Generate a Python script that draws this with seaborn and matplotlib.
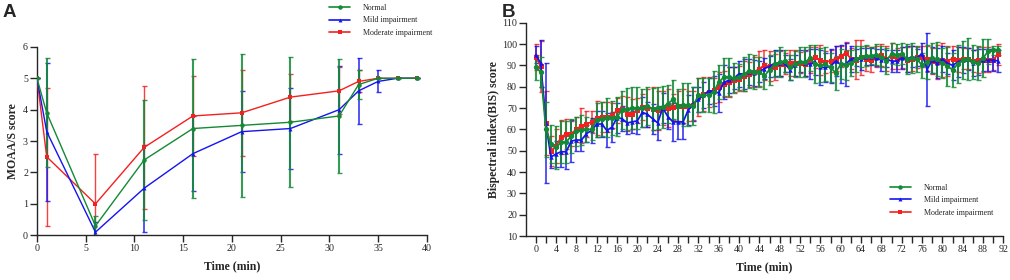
import numpy as np
import pandas as pd
import matplotlib
matplotlib.use("Agg")
import matplotlib.pyplot as plt
import seaborn as sns

# ---------------- data ----------------
groups = ["Normal", "Mild impairment", "Moderate impairment"]

# Panel A: MOAA/S score
time_a = [0, 1, 6, 11, 16, 21, 26, 31, 33, 35, 37, 39]
moaas_normal = [5, 3.9, 0.3, 2.4, 3.4, 3.5, 3.6, 3.8, 4.8, 5.0, 5.0, 5.0]
moaas_mild = [5, 3.3, 0.1, 1.5, 2.6, 3.3, 3.4, 4.0, 4.6, 4.9, 5.0, 5.0]
moaas_moderate = [5, 2.5, 1.0, 2.8, 3.8, 3.9, 4.4, 4.6, 4.9, 5.0, 5.0, 5.0]
sd_a_normal = [0, 1.73, 0.3, 1.92, 2.2, 2.27, 2.07, 1.82, 0.45, 0, 0, 0]
sd_a_mild = [0, 2.2, 0.33, 1.38, 1.2, 1.28, 1.3, 1.4, 1.05, 0.35, 0, 0]
sd_a_moderate = [0, 2.2, 1.6, 1.97, 1.28, 1.37, 0.75, 0.75, 0.35, 0, 0, 0]

# Panel B: BIS score (each minute 0..91)
time_b = list(range(92))
bis_normal = [89, 87, 60, 53, 51.5, 54, 54, 57, 59, 59.5, 60, 60, 64.5, 65, 65.5, 65.5,
              66, 69, 69.5, 70, 70, 70, 71, 69.5, 70, 70.5, 72, 74, 71, 71.5, 71.5, 71,
              76, 76, 76, 77.5, 82, 84.5, 84.5, 84, 84.5, 86, 87.5, 87, 87, 85, 88, 90.5,
              91.5, 92, 89, 90.5, 91.5, 91.5, 93.5, 90.5, 90, 90.5, 89, 86.5, 90.5, 90,
              91, 93, 94, 94.5, 94.5, 95, 94, 92, 95.5, 95, 95.5, 93, 93.5, 93, 90, 91.5,
              93.5, 93, 91, 89.5, 88, 90.5, 92.5, 93, 91.5, 91, 93.5, 96.5, 97, 97]
bis_mild = [95, 91, 63, 47, 48.5, 49.5, 49.5, 54.5, 55, 55, 58, 59.5, 62.5, 62.5, 59.5, 61,
            65.5, 65, 63, 63.5, 64, 68, 67, 65, 63, 70, 66, 63.5, 63.5, 63.5, 69, 72,
            74, 76, 78, 78, 77, 82, 83, 84, 86, 86, 87, 86.5, 87, 88.5, 89.5, 91,
            91, 91, 88, 90, 92, 91, 90.5, 91.5, 89, 89, 89.5, 92, 90.5, 90.5,
            93, 93.5, 93, 94, 94, 93.5, 92.5, 93, 92, 92, 93.5, 93, 94, 93.5, 95.5, 88,
            92.5, 91, 93, 91, 90, 91.5, 92.5, 93, 91, 91.5, 92.5, 92.5, 92.5, 92]
bis_moderate = [94, 89.5, 63, 50, 52, 56.3, 58, 58, 60, 61.8, 62.6, 63.4, 65.4, 65.7, 65.7, 66.5,
                68.9, 69.7, 67.3, 67.3, 68.9, 70.4, 70, 69.7, 68.9, 70, 70.1, 70.4, 70.8, 70.9, 70.8, 71.2,
                75.2, 76.4, 77.5, 78.3, 79.9, 81.4, 82.2, 83.3, 83.8, 84.9, 85.8, 86.9, 88.5, 90, 89.6, 89.3,
                90.8, 90.8, 91.2, 91.2, 91.2, 90.8, 92.4, 93.7, 92.4, 91.6, 92.1, 93.2, 94.3, 95.9,
                93.2, 92.7, 93.7, 93.2, 92.7, 94, 94.8, 93.2, 94.3, 93.2, 93.7, 92.7, 93.2, 93.7, 94, 93.2,
                92.1, 91.6, 92.4, 92.1, 93.2, 92.7, 93.2, 93.2, 92.1, 92.4, 92.7, 92.7, 92.7, 95.2]
sd_b_normal = [6, 7, 13, 9, 10, 10, 10, 8, 7, 7, 6, 5, 8, 8, 9, 8,
               9, 9, 10, 10, 10, 9, 9, 10, 10, 10, 9, 9, 8, 10, 10, 9,
               8, 8, 8, 10, 8, 9, 9, 7, 6, 8, 8, 8, 7, 6, 7, 6,
               7, 5, 6, 6, 7, 7, 6, 9, 8, 8, 7, 8, 7, 7,
               6, 6, 5, 5, 4, 5, 5, 6, 5, 5, 5, 7, 7, 6, 6, 8,
               7, 8, 7, 9, 8, 9, 9, 10, 8, 8, 9, 6, 2, 2]
sd_b_mild = [4, 11, 28, 5, 6, 7, 8, 10, 5, 5, 4, 6, 6, 6, 8, 7,
             7, 6, 5, 5, 6, 7, 6, 7, 8, 7, 6, 9, 8, 8, 7, 8,
             6, 6, 6, 7, 9, 8, 6, 5, 6, 7, 6, 6, 5, 5, 5, 6,
             6, 4, 5, 5, 5, 6, 7, 6, 8, 7, 8, 7, 9, 10,
             6, 4, 5, 4, 4, 4, 5, 4, 5, 5, 5, 6, 5, 4, 5, 17,
             6, 7, 6, 5, 7, 7, 6, 5, 6, 6, 5, 5, 5, 5]
sd_b_moderate = [6, 12, 15, 7, 8, 8, 7, 6, 6, 8, 6, 5, 8, 7, 7, 6,
                 6, 6, 8, 7, 6, 6, 9, 10, 9, 8, 9, 6, 7, 8, 7, 7,
                 9, 8, 7, 6, 7, 6, 7, 6, 6, 7, 6, 7, 8, 7, 7, 6,
                 6, 5, 6, 6, 5, 6, 6, 5, 7, 5, 5, 6, 5, 5,
                 5, 9, 8, 6, 6, 5, 5, 6, 6, 5, 5, 6, 6, 5, 5, 6,
                 6, 8, 8, 7, 6, 6, 5, 5, 5, 6, 6, 6, 5, 5]

xticks_b = list(range(0, 93, 2))
xticklabels_b = [str(v) if v % 4 == 0 else "" for v in xticks_b]

# ---------------- style ----------------
sns.set_style("ticks")
plt.rcParams["font.family"] = ["Liberation Serif", "DejaVu Serif"]
plt.rcParams["axes.linewidth"] = 1.0

colors = {"Normal": "#138a36", "Mild impairment": "#1414f0", "Moderate impairment": "#f42020"}
markers = {"Normal": "o", "Mild impairment": "^", "Moderate impairment": "s"}

fig = plt.figure(figsize=(10.1, 2.8), dpi=100)
axA = fig.add_axes([0.0366, 0.1596, 0.386, 0.673])
axB = fig.add_axes([0.5208, 0.157, 0.4726, 0.762])


def draw(ax, t, series, sds, order, lw_err, msize, lw):
    rows = []
    for g in groups:
        for ti, v in zip(t, series[g]):
            rows.append({"time": ti, "score": v, "group": g})
    df = pd.DataFrame(rows)
    for g in order:
        sub = df[df["group"] == g]
        ax.errorbar(t, series[g], yerr=sds[g], fmt="none", ecolor=colors[g],
                    elinewidth=lw_err[g], capsize=1.8, capthick=1.0, alpha=0.85, zorder=2)
        sns.lineplot(data=sub, x="time", y="score", color=colors[g], marker=markers[g],
                     markersize=msize[g], markeredgewidth=0, linewidth=lw,
                     estimator=None, ax=ax, label=g, zorder=3, legend=False)


def legend(ax, anchor, msize):
    from matplotlib.lines import Line2D
    handles = [Line2D([0], [0], color=colors[g], marker=markers[g], markersize=msize[g],
                      markeredgewidth=0, linewidth=1.2) for g in groups]
    ax.legend(handles, groups, loc="upper left", bbox_to_anchor=anchor,
              bbox_transform=fig.transFigure, frameon=False, fontsize=5.8,
              handlelength=2.6, handletextpad=1.6, labelspacing=0.55, borderpad=0)


# Panel A
msA = {"Normal": 3.2, "Mild impairment": 2.8, "Moderate impairment": 3.2}
seriesA = {"Normal": moaas_normal, "Mild impairment": moaas_mild, "Moderate impairment": moaas_moderate}
sdsA = {"Normal": sd_a_normal, "Mild impairment": sd_a_mild, "Moderate impairment": sd_a_moderate}
draw(axA, time_a, seriesA, sdsA, ["Moderate impairment", "Mild impairment", "Normal"],
     {"Normal": 1.5, "Mild impairment": 1.2, "Moderate impairment": 1.0}, msA, 1.0)
axA.set_xlim(0, 40)
axA.set_ylim(0, 6)
axA.set_xticks(range(0, 41, 5))
axA.set_yticks(range(0, 7))
axA.set_xlabel("Time (min)", fontsize=8.5, fontweight="bold", labelpad=5)
axA.set_ylabel("MOAA/S score", fontsize=8.5, fontweight="bold", labelpad=3)
legend(axA, (0.322, 1.0), msA)

# Panel B
msB = {"Normal": 3.8, "Mild impairment": 3.2, "Moderate impairment": 3.6}
seriesB = {"Normal": bis_normal, "Mild impairment": bis_mild, "Moderate impairment": bis_moderate}
sdsB = {"Normal": sd_b_normal, "Mild impairment": sd_b_mild, "Moderate impairment": sd_b_moderate}
draw(axB, time_b, seriesB, sdsB, ["Moderate impairment", "Mild impairment", "Normal"],
     {"Normal": 1.5, "Mild impairment": 1.2, "Moderate impairment": 1.1}, msB, 1.25)
axB.set_xlim(-1.9, 92)
axB.set_ylim(10, 110)
axB.set_xticks(xticks_b)
axB.set_xticklabels(xticklabels_b)
axB.set_yticks(range(10, 111, 10))
axB.set_xlabel("Time (min)", fontsize=8.5, fontweight="bold", labelpad=5)
axB.set_ylabel("Bispectral index(BIS) score", fontsize=8.5, fontweight="bold", labelpad=1)
legend(axB, (0.877, 0.358), msA)

for ax in (axA, axB):
    sns.despine(ax=ax)
    ax.tick_params(axis="both", labelsize=7.2, length=5, width=1.0, direction="out", pad=1.5)

fig.text(0.003, 0.985, "A", fontsize=13.5, fontweight="bold", va="top", ha="left",
         family=["Liberation Sans", "DejaVu Sans"])
fig.text(0.497, 0.985, "B", fontsize=13.5, fontweight="bold", va="top", ha="left",
         family=["Liberation Sans", "DejaVu Sans"])

fig.savefig("out.png", dpi=100)
